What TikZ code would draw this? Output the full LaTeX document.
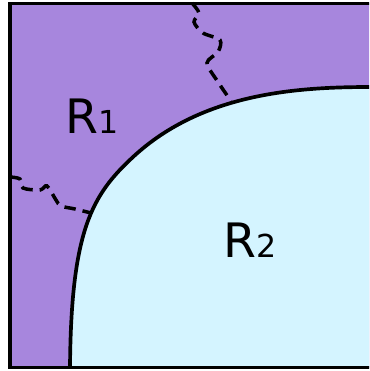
\documentclass[tikz,border=0pt]{standalone}
\usepackage{fontspec}
\setmainfont{DejaVu Sans}
\usepackage{xcolor}
\usepackage{tikz}
\definecolor{regionone}{HTML}{A786DD}
\definecolor{regiontwo}{HTML}{D4F4FF}

\tikzset{
  frameline/.style={line width=2.1pt},
  boundary/.style={line width=2.1pt},
  cutline/.style={line width=2pt,dash pattern=on 6.5pt off 4pt},
  regionlabel/.style={inner sep=0pt,anchor=base west,font=\fontsize{27}{27}\selectfont}
}

\begin{document}
\begin{tikzpicture}[x=0.02cm,y=-0.02cm]
\useasboundingbox (0,0) rectangle (369,371);
\clip (0,0) rectangle (369,371);
\fill[regionone] (10,3.5) rectangle (385,367.5);
\fill[regiontwo] (70,368) .. controls (71,230) and (92,195) .. (133,157) .. controls (203,92) and (300,87) .. (372,87) -- (385,87) -- (385,368) -- cycle;
\draw[boundary] (70,368) .. controls (71,230) and (92,195) .. (133,157) .. controls (203,92) and (300,87) .. (372,87) -- (385,87);
% dashed cuts
\draw[cutline] plot[smooth] coordinates {(192,3) (199,13) (194,22) (203,33) (220,40) (218,52) (207,63) (218,82) (231,101)};
\draw[cutline] plot[smooth] coordinates {(10,177) (20,179) (23,188) (40,190) (47,186) (56,200) (61,206) (75,209) (91,213)};
\draw[frameline] (385,3.5) -- (10,3.5) -- (10,367.5) -- (385,367.5);
\node[regionlabel] (rone) at (65,133) {R{\fontsize{18}{18}\selectfont 1}};
\node[regionlabel] (rtwo) at (223,257) {R{\fontsize{18}{18}\selectfont 2}};
\end{tikzpicture}
\end{document}
